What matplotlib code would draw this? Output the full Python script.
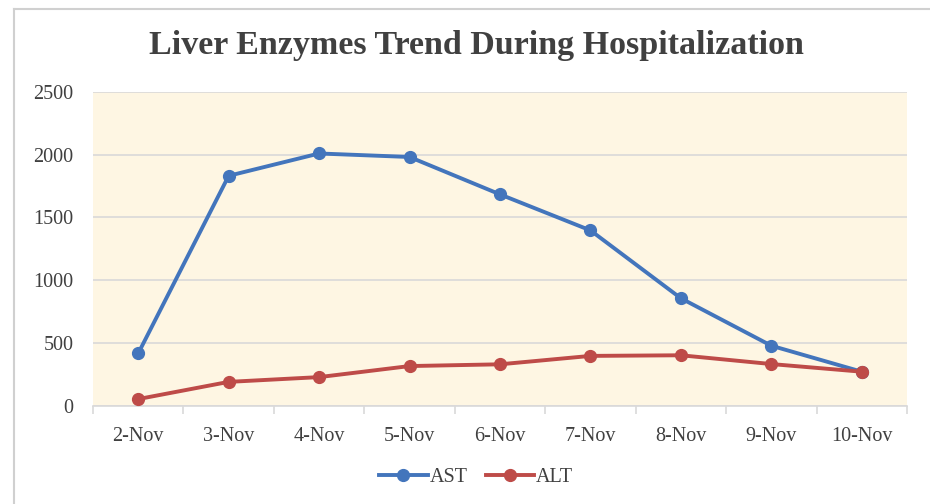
import numpy as np
import matplotlib
matplotlib.use("Agg")
import matplotlib.pyplot as plt
from matplotlib.lines import Line2D

# data
dates = ['2-Nov', '3-Nov', '4-Nov', '5-Nov', '6-Nov', '7-Nov', '8-Nov', '9-Nov', '10-Nov']
ast = [417, 1832, 2010, 1982, 1684, 1397, 856, 478, 271]
alt = [53, 190, 228, 316, 330, 397, 402, 332, 271]
y_ticks = [0, 500, 1000, 1500, 2000, 2500]

plt.rcParams['font.family'] = ['Liberation Serif', 'DejaVu Serif']
txt = '#404040'

fig = plt.figure(figsize=(9.3, 5.04), dpi=100)
ax = fig.add_axes([0.1, 0.195, 0.8753, 0.6225])
ax.set_facecolor('#FEF6E3')

x = np.arange(len(dates))
ax.plot(x, ast, color='#4375BC', lw=2.8, marker='o', ms=8.5, label='AST', zorder=3)
ax.plot(x, alt, color='#BE4B48', lw=2.8, marker='o', ms=8.5, label='ALT', zorder=3)

ax.set_xlim(-0.5, len(dates) - 0.5)
ax.set_ylim(0, 2500)
ax.set_yticks(y_ticks)
ax.set_yticklabels([str(v) for v in y_ticks], fontsize=14.5, color=txt)
ax.yaxis.grid(True, color='#D9D9D9', lw=1.2)
ax.set_axisbelow(True)
ax.tick_params(axis='y', length=0, pad=14)

# category ticks at boundaries, labels at centres
ax.set_xticks(np.arange(-0.5, len(dates)), minor=False)
ax.set_xticklabels([''] * (len(dates) + 1))
ax.set_xticks(x, minor=True)
ax.set_xticklabels(dates, minor=True, fontsize=14.5, color=txt)
ax.tick_params(axis='x', which='major', length=6, color='#D9D9D9', width=1.2)
ax.tick_params(axis='x', which='minor', length=0, pad=15)

for s in ['left', 'right', 'top']:
    ax.spines[s].set_visible(False)
ax.spines['bottom'].set_color('#D9D9D9')
ax.spines['bottom'].set_linewidth(1.2)

fig.text(0.512, 0.91, 'Liver Enzymes Trend During Hospitalization',
         ha='center', va='center', fontsize=24.5, fontweight='bold', color=txt)

leg = fig.legend(loc='center', bbox_to_anchor=(0.512, 0.053), ncol=2, frameon=False,
                 fontsize=14.5, handlelength=2.4, handletextpad=0.1, columnspacing=0.9)
for t in leg.get_texts():
    t.set_color(txt)

# outer chart border (top and left visible)
fig.add_artist(Line2D([14 / 930, 1], [1 - 9 / 504, 1 - 9 / 504], transform=fig.transFigure,
                      color='#D0D0D0', lw=1.5))
fig.add_artist(Line2D([14 / 930, 14 / 930], [0, 1 - 9 / 504], transform=fig.transFigure,
                      color='#D0D0D0', lw=1.5))

fig.savefig('out.png', dpi=100, facecolor='white')
